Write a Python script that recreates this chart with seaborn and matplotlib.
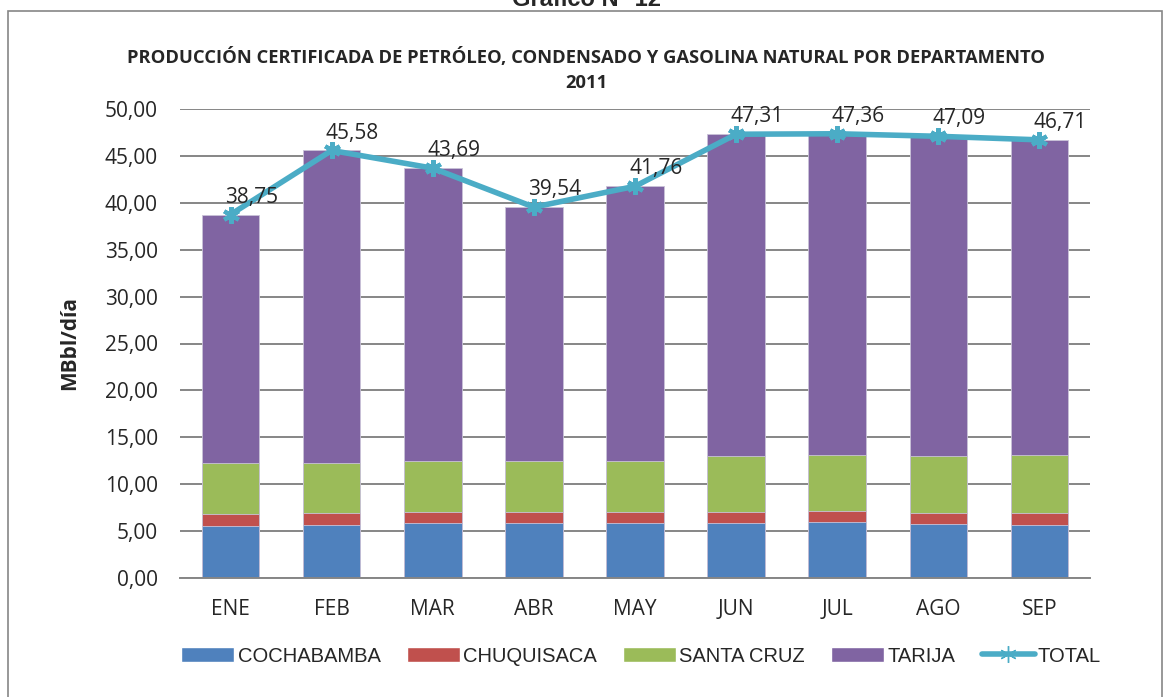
import numpy as np
import pandas as pd
import seaborn as sns
import matplotlib.pyplot as plt
from matplotlib.patches import Patch, Rectangle
from matplotlib.lines import Line2D

# datos (MBbl/día)
meses = ['ENE', 'FEB', 'MAR', 'ABR', 'MAY', 'JUN', 'JUL', 'AGO', 'SEP']
cochabamba = [5.58, 5.65, 5.83, 5.86, 5.83, 5.86, 5.93, 5.79, 5.69]
chuquisaca = [1.24, 1.28, 1.24, 1.21, 1.24, 1.21, 1.21, 1.18, 1.21]
santa_cruz = [5.44, 5.33, 5.37, 5.40, 5.40, 5.93, 5.94, 6.03, 6.21]
total = [38.75, 45.58, 43.69, 39.54, 41.76, 47.31, 47.36, 47.09, 46.71]
tarija = [t - a - b - c for t, a, b, c in zip(total, cochabamba, chuquisaca, santa_cruz)]

series = ['COCHABAMBA', 'CHUQUISACA', 'SANTA CRUZ', 'TARIJA']
colores = ['#4F81BD', '#C0504D', '#9BBB59', '#8064A2']
color_total = '#4BACC6'

df = pd.DataFrame({'mes': meses, 'COCHABAMBA': cochabamba, 'CHUQUISACA': chuquisaca,
                   'SANTA CRUZ': santa_cruz, 'TARIJA': tarija, 'TOTAL': total})

sns.set_style('white')
plt.rcParams['font.family'] = ['Open Sans', 'DejaVu Sans']

fig = plt.figure(figsize=(11.72, 6.97), dpi=100)
ax = fig.add_axes([180 / 1172, 1 - 578 / 697, 910 / 1172, 469 / 697])

# barras apiladas: se dibujan los acumulados de mayor a menor
acum = df[series].cumsum(axis=1)
for serie, color in reversed(list(zip(series, colores))):
    sns.barplot(x=df['mes'], y=acum[serie], color=color, width=0.57,
                saturation=1, edgecolor='#c9c2d8', linewidth=0.6, ax=ax, zorder=2)

sns.pointplot(x=df['mes'], y=df['TOTAL'], color=color_total, markers=(6, 2, 0),
              markersize=12, linewidth=4, ax=ax, zorder=4)

for i, v in enumerate(total):
    ax.annotate(f'{v:.2f}'.replace('.', ','), (i, v), xytext=(15, 5),
                textcoords='offset points', ha='center', va='bottom',
                fontsize=15, zorder=5)

ax.set_ylim(0, 50)
ax.set_xlim(-0.5, len(meses) - 0.5)
ax.set_yticks(np.arange(0, 50.1, 5))
ax.set_yticklabels([f'{v:.2f}'.replace('.', ',') for v in np.arange(0, 50.1, 5)])
ax.yaxis.grid(True, color='#868686', linewidth=1.4, zorder=0)
ax.set_axisbelow(True)
ax.tick_params(axis='y', labelsize=15, length=0, pad=16)
ax.tick_params(axis='x', labelsize=15, length=0, pad=15)
ax.set_xlabel('')
ax.set_ylabel('MBbl/día', fontsize=15, fontweight='bold', labelpad=18)
for s in ['top', 'right', 'left']:
    ax.spines[s].set_visible(False)
ax.spines['bottom'].set_color('#868686')
ax.spines['bottom'].set_linewidth(1.4)

fig.text(0.5, 1 - 70 / 697, 'PRODUCCIÓN CERTIFICADA DE PETRÓLEO, CONDENSADO Y GASOLINA NATURAL POR DEPARTAMENTO\n2011',
         ha='center', va='center', fontsize=13.2, fontweight='bold', linespacing=1.45)
fig.text(0.5, 1.0, 'Gráfico N° 12', ha='center', va='center', fontsize=17, fontweight='bold',
         family=['Liberation Sans', 'DejaVu Sans'])

# marco exterior
fig.patches.append(Rectangle((8 / 1172, -0.01), 1154 / 1172, 1 - 11 / 697 + 0.01,
                             transform=fig.transFigure, fill=False, edgecolor='#868686',
                             linewidth=1.2))

handles = [Patch(facecolor=c, label=s) for s, c in zip(series, colores)]
handles.append(Line2D([0], [0], color=color_total, linewidth=4, marker=(6, 2, 0),
                      markersize=12, label='TOTAL'))
leg = fig.legend(handles=handles, loc='center', bbox_to_anchor=(0.547, 1 - 656 / 697), ncol=5,
                 frameon=False, prop={'family': ['Liberation Sans', 'DejaVu Sans'], 'size': 14.5},
                 handlelength=2.65, handleheight=0.8, handletextpad=0.15, columnspacing=1.3)

fig.savefig('out.png', dpi=100)
